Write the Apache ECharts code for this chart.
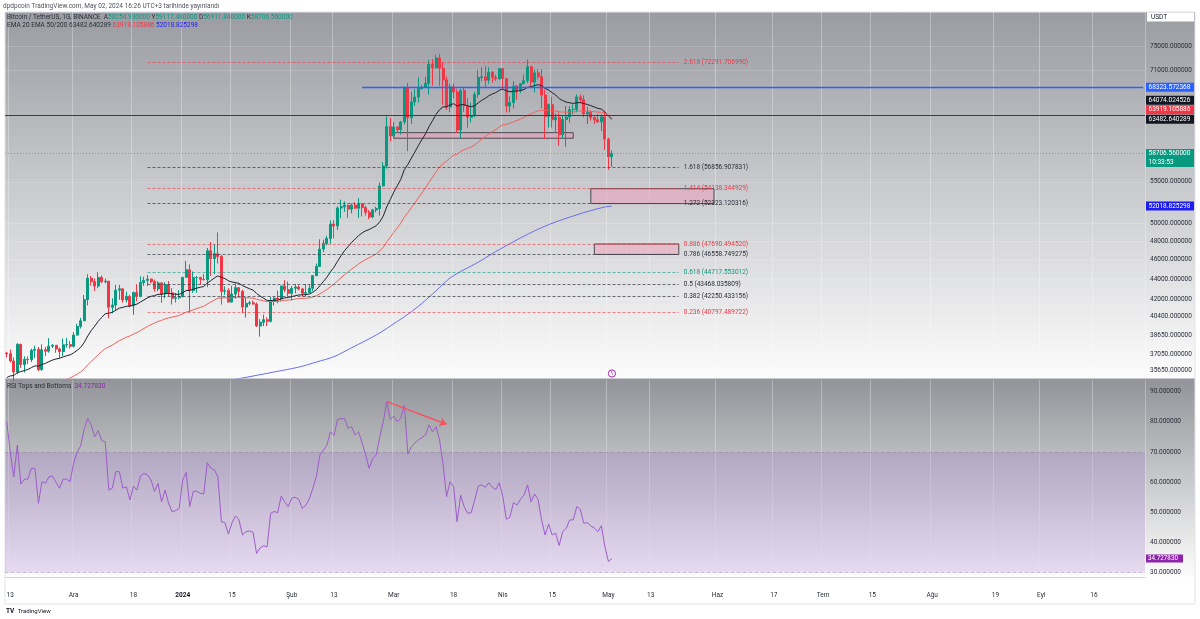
<!DOCTYPE html>
<html>
<head>
<meta charset="utf-8">
<script src="https://cdn.jsdelivr.net/npm/echarts@6/dist/echarts.min.js"></script>
<style>
  html, body { margin: 0; padding: 0; background: #fff; }
  #chart { width: 1200px; height: 619px; }
</style>
</head>
<body>
<div id="chart"></div>
<script>
// günlük mumlar 12 Kas 2023'ten başlıyor, eksen Eylül sonuna kadar
var startDay = Date.UTC(2023, 10, 12);
var dayCount = 324;
var categories = [];
for (var i = 0; i < dayCount; i++) {
  categories.push(new Date(startDay + i * 86400000).toISOString().slice(0, 10));
}

// [açılış, yüksek, düşük, kapanış]
var candles = [
  [37130,37230,36750,37065],[37065,37430,36330,36462],[36462,36750,34800,35552],[35552,37980,35360,37880],
  [37880,37930,35880,36160],[36160,36850,35500,36596],[36596,36850,36200,36568],[36568,37500,36360,37359],
  [37359,37750,36700,37448],[37448,37650,35630,35745],[35745,37880,35650,37413],[37413,37650,36860,37289],
  [37289,38420,37160,37720],[37720,37900,37560,37796],[37796,37820,37150,37479],[37479,37590,36700,37254],
  [37254,38390,36870,37831],[37831,38450,37600,37858],[37858,38150,37500,37712],
  [37712,38960,37600,38688],[38688,39700,38650,39476],[39476,40250,39280,39978],[39978,42420,39970,41980],
  [41980,44490,41420,44080],[44080,44300,43330,43746],[43746,44050,42820,43292],[43292,44700,43080,44166],
  [44166,44370,43580,43725],[43725,44040,43560,43789],[43789,43800,40220,41243],[41243,42100,40680,41450],
  [41450,43430,40980,42890],[42890,43420,41960,43022],[43022,43090,41700,41941],[41941,42730,41700,42278],
  [42278,42440,41250,41374],[41374,42750,40530,42657],[42657,43480,41800,42271],[42271,44280,42200,43652],
  [43652,44240,43330,43869],[43869,44400,43300,43997],[43997,44050,43580,43740],[43740,43950,42750,43016],
  [43016,43800,42780,43613],[43613,43650,41670,42520],[42520,43690,42100,43442],[43442,43800,42300,42627],
  [42627,43110,41500,42099],[42099,42620,41700,42156],[42156,42900,42000,42283],
  [42283,44200,42180,44180],[44180,45880,44150,44946],[44946,45500,40750,42845],[42845,44770,42620,44151],
  [44151,44300,42630,44162],[44162,44230,43420,43968],[43968,44500,43870,43930],[43930,47250,43200,46951],
  [46951,47900,44300,46110],[46110,47700,44500,46633],[46633,48970,45600,46340],[46340,46500,41500,42782],
  [42782,43260,42430,42848],[42848,43080,41720,41732],[41732,43330,41720,42511],[42511,43580,42050,43137],
  [43137,43200,42200,42777],[42777,42930,40700,41262],[41262,42200,40280,41618],[41618,41870,41420,41665],
  [41665,41880,41500,41545],[41545,41700,39430,39507],[39507,40130,38555,39845],[39845,40550,39480,40077],
  [40077,40300,39500,39934],[39934,42250,39820,41816],[41816,42200,41400,42120],[42120,42840,41620,42031],
  [42031,43320,41800,43302],[43302,43880,42700,42941],[42941,43750,42270,42580],
  [42580,43290,41880,43082],[43082,43490,42570,43200],[43200,43380,42880,43011],[43011,43120,42250,42583],
  [42583,43500,42260,42658],[42658,43400,42570,43084],[43084,44370,42790,44340],[44340,45600,44330,45293],
  [45293,48200,45240,47132],[47132,48170,46800,47751],[47751,48590,47550,48300],[48300,50330,47700,49917],
  [49917,50370,48300,49699],[49699,52000,49250,51795],[51795,52820,50600,51939],[51939,52570,51330,52123],
  [52123,52190,50630,51662],[51662,52350,51160,52122],[52122,52480,51680,51779],[51779,52980,50630,52258],
  [52258,52370,50800,51849],[51849,52070,50900,51288],[51288,51550,50500,50745],[50745,51700,50580,51568],
  [51568,51950,51280,51728],[51728,54910,50900,54476],[54476,57550,54450,57037],[57037,63900,56700,62432],
  [62432,63680,60360,61130],
  [61130,63114,60777,62388],[62388,62433,61561,61988],[61988,63230,61320,63114],[63114,68500,62790,68245],
  [68245,69000,59005,63724],[63724,67637,62800,66075],[66075,67990,65500,66823],[66823,69900,66000,68124],
  [68124,68670,67950,68313],[68313,69990,68230,68955],[68955,72800,67190,72078],[72078,72912,68620,71452],
  [71452,73650,71330,73072],[73072,73777,68555,71388],[71388,72420,65630,69500],[69500,70043,64870,65300],
  [65300,68850,64550,68394],[68394,68950,66600,67609],[67609,68100,61530,61937],[61937,68100,60775,67840],
  [67840,68240,64580,65501],[65501,66650,62260,63796],[63796,65970,63000,64037],[64037,67620,63790,67211],
  [67211,71150,66700,69880],[69880,71560,69280,69987],[69987,71730,68380,69455],[69455,71550,68900,70744],
  [70744,70900,69050,69892],[69892,70360,69350,69645],[69645,71370,69570,71333],
  [71333,71370,68100,69702],[69702,69708,64500,65446],[65446,66900,64500,65980],[65980,69290,65060,68508],
  [68508,68725,66380,67837],[67837,69000,67440,68896],[68896,70327,68840,69360],[69360,72797,69000,71620],
  [71620,71758,68210,69146],[69146,71172,67520,70631],[70631,71256,69570,70006],[70006,71227,65100,67116],
  [67116,67932,60660,63924],[63924,65840,62300,65661],[65661,66867,62300,63419],[63419,64365,61700,63793],
  [63793,64500,59768,61277],[61277,64125,60775,63470],[63470,65450,59600,63818],[63818,65420,63000,64940],
  [64940,65700,64240,64941],[64941,67230,64530,66837],[66837,67200,65850,66408],[66408,67070,63800,64276],
  [64276,65300,62800,64482],[64482,64800,63300,63755],[63755,63900,62800,63420],[63420,64300,62980,63114],
  [63114,64230,61800,63841],[63841,64740,59190,60672],
  [60672,60850,56552,58254.93],[58254.93,59117.48,56911.84,58706.56]
];

var ema20 = [
  35100,35229,35260,35509,35571,35668,35753,35906,36053,36023,36155,36263,36402,36535,36625,36685,36795,36895,36974,
  37136,37359,37609,38025,38602,39092,39492,39937,40298,40630,40689,40761,40964,41160,41234,41333,41338,41463,41540,41740,
  41943,42138,42290,42360,42479,42483,42574,42579,42533,42497,42476,
  42644,42863,42861,42984,43096,43179,43251,43603,43842,44108,44321,44174,44048,43827,43702,43648,43565,43346,43181,43037,
  42895,42572,42312,42099,41893,41886,41908,41920,42052,42137,42179,
  42265,42354,42417,42433,42454,42514,42688,42936,43335,43755,44188,44733,45206,45833,46414,46958,47406,47855,48229,48613,
  48921,49146,49298,49514,49725,50177,50830,51935,52810,
  53722,54509,55328,56558,57240,58081,58913,59790,60601,61396,62413,63274,64207,64891,65330,65327,65619,65808,65439,65668,
  65652,65475,65338,65516,65931,66317,66616,67009,67283,67508,67872,
  68046,67798,67625,67709,67721,67833,67978,68325,68403,68615,68747,68592,68148,67911,67483,67132,66575,66279,66045,65940,
  65845,65939,65984,65821,65694,65509,65310,65101,64981,64571,
  63970,63482.64
];

var ema50 = [
  32800,32944,33046,33235,33350,33477,33598,33745,33890,33963,34098,34223,34360,34495,34612,34716,34838,34956,35064,
  35206,35373,35554,35806,36130,36429,36698,36991,37255,37511,37657,37806,38005,38202,38349,38503,38616,38774,38911,39097,
  39284,39469,39636,39768,39919,40021,40155,40252,40324,40396,40470,
  40615,40785,40866,40995,41119,41231,41337,41557,41735,41927,42100,42127,42155,42138,42153,42192,42215,42178,42156,42137,
  42114,42012,41927,41854,41779,41780,41793,41802,41861,41903,41930,
  41975,42023,42062,42082,42105,42143,42229,42349,42536,42740,42958,43231,43485,43811,44130,44443,44726,45016,45281,45554,
  45801,46016,46201,46411,46619,46927,47323,47915,48433,
  48980,49490,50024,50738,51247,51828,52416,53032,53631,54232,54932,55580,56266,56859,57355,57666,58087,58460,58596,58958,
  59214,59394,59576,59875,60267,60648,60993,61375,61709,62020,62385,
  62672,62781,62906,63126,63311,63530,63759,64067,64266,64516,64731,64824,64789,64823,64768,64730,64595,64551,64522,64538,
  64554,64643,64712,64695,64687,64650,64602,64544,64516,64365,
  64125,63919.11
];

// EMA 200 resimden aralıklı okundu: [gün indeksi, değer]
var ema200Points = [
  [58,34540],[64,34900],[70,35220],[76,35550],[83,35950],[88,36370],[93,36820],[98,37580],[102,38200],
  [106,38880],[110,39710],[114,40580],[118,41610],[122,42830],[126,44110],[130,44960],[134,45730],
  [138,46650],[142,47510],[146,48350],[150,49140],[154,49850],[158,50450],[162,50990],[166,51490],
  [170,51920],[172,52018.83]
];

var rsi = [
  80,70,61.8,72.3,59.4,61,61,64.6,64.6,53,60.2,59.6,61.8,62,60,58,61,61,60.2,
  66.3,70,72,77.5,81.2,79,75.1,77.1,73.8,73.4,57.4,58,63.5,63.5,58,58.5,54.1,58.7,57.4,62,
  62.9,62.4,60.7,56.9,59.6,53.5,57.4,53,50.2,50.6,51.3,
  60.7,63.2,51.9,56.9,57.1,56.3,56.1,66.5,64.6,64.1,61.8,46.9,46.6,42.8,46.5,48.8,47.5,42.5,43.6,43.8,
  43.4,36.4,38.2,38.9,38.6,49.7,50.3,49.9,55.4,53.5,51.9,
  54.7,55,54.3,51.3,52.4,54.5,58,62,69,70.7,72.3,76.7,75.5,80.8,81,81.2,77.9,78.4,75.6,76.7,
  73,69,64.6,67.9,69,75,80,86.7,80.8,
  81.9,80.1,81.2,85.6,69.3,71.8,73,74,74.8,75.6,79,76.7,78.4,74,66,55.2,60.2,58.5,46.9,55.7,
  51.9,49.7,49.9,54.1,58.7,59.1,58.3,59.8,58.3,57.6,59.8,
  55.2,47.7,48.4,53.2,52.4,54.3,55.7,59.1,53.5,56.1,54.3,47.5,42.5,46.1,42.5,43.1,39,43.6,44.7,47.5,
  47.5,51.9,51,46.4,46.6,45.5,44.8,43.6,45.6,38.6,
  33.7,34.72783
];

var priceTicks = [35650, 37050, 38650, 40400, 42000, 44000, 46000, 48000, 50000, 55000, 71000, 75000];
var rsiTicks = [30, 40, 50, 60, 70, 80, 90];
var xTickDates = ['2023-11-13','2023-12-01','2023-12-18','2024-01-01','2024-01-15','2024-02-01','2024-02-13',
  '2024-03-01','2024-03-18','2024-04-01','2024-04-15','2024-05-01','2024-05-13','2024-06-01','2024-06-17',
  '2024-07-01','2024-07-15','2024-08-01','2024-08-19','2024-09-01','2024-09-16'];
var xTickLabels = ['13','Ara','18','2024','15','Şub','13','Mar','18','Nis','15','May','13','Haz','17',
  'Tem','15','Ağu','19','Eyl','16'];

// fibonacci uzantısı
var fibRatios = ['2.618','1.618','1.414','1.272','0.886','0.786','0.618','0.5','0.382','0.236'];
var fibPrices = [72291.706990, 56856.907831, 54138.344929, 52323.120316, 47690.494520,
  46558.749275, 44717.553012, 43468.035809, 42250.433156, 40797.489722];
var fibTone = ['r','k','r','k','r','k','g','k','k','r'];
var fibFrom = 40, fibTo = 191;

// kutular: [başlangıç, bitiş, üst, alt]
var zones = [
  [166, 201, 54138.344929, 52323.120316],
  [167, 191, 47690.494520, 46558.749275],
  [110, 161, 61570, 60790]
];
var resistance = 68323.572368, resistanceFrom = 101;
var supportLine = 64074.024526;
var emaNow = [63482.640289, 63919.105886, 52018.825298];
var arrowFrom = [108, 86.7], arrowTo = [125, 79.2];

var FONT = 'Roboto, "Noto Sans", sans-serif';
var UP = '#089981', DOWN = '#f23645';
var toneLine = { r: 'rgba(242,54,69,0.6)', k: 'rgba(60,64,74,0.75)', g: 'rgba(8,153,129,0.6)' };
var toneText = { r: '#f23645', k: '#2a2e39', g: '#089981' };

var last = candles[candles.length - 1];
var isTick = function (idx, val) { return xTickDates.indexOf(val) >= 0; };

var fibLines = fibRatios.map(function (r, k) {
  return [
    { coord: [fibFrom, fibPrices[k]],
      lineStyle: { color: toneLine[fibTone[k]], type: [3, 2], width: 1 },
      label: { show: true, position: 'end', distance: 5, formatter: r + ' (' + fibPrices[k].toFixed(6) + ')',
        color: toneText[fibTone[k]], fontSize: 6.5, fontFamily: FONT, padding: [0, 0, 9, 0] } },
    { coord: [fibTo, fibPrices[k]] }
  ];
});

var myChart = echarts.init(document.getElementById('chart'));

var option = {
  animation: false,
  backgroundColor: '#ffffff',
  grid: [
    { left: 5, right: 55, top: 12, height: 366 },
    { left: 5, right: 55, top: 380, height: 197 }
  ],
  xAxis: [
    { type: 'category', gridIndex: 0, data: categories, boundaryGap: true,
      axisLine: { show: false }, axisTick: { show: false }, axisLabel: { show: false },
      splitLine: { show: true, interval: isTick, lineStyle: { color: 'rgba(255,255,255,0.3)', width: 1 } } },
    { type: 'category', gridIndex: 1, data: categories, boundaryGap: true,
      axisLine: { show: true, lineStyle: { color: '#d1d4dc' } }, axisTick: { show: false },
      axisLabel: { show: true, interval: isTick, margin: 15, fontSize: 6.5, fontFamily: FONT, color: '#2a2e39',
        formatter: function (v) {
          var k = xTickDates.indexOf(v);
          var t = k >= 0 ? xTickLabels[k] : '';
          return t === '2024' ? '{b|2024}' : t;
        },
        rich: { b: { fontWeight: 'bold', fontSize: 6.5, fontFamily: FONT, color: '#131722' } } },
      splitLine: { show: true, interval: isTick, lineStyle: { color: 'rgba(255,255,255,0.3)', width: 1 } } }
  ],
  yAxis: [
    { type: 'log', gridIndex: 0, position: 'right', min: 35061, max: 81218,
      axisLine: { show: false },
      axisTick: { show: false, customValues: priceTicks },
      axisLabel: { customValues: priceTicks, margin: 5, fontSize: 6.5, fontFamily: FONT, color: '#2a2e39',
        formatter: function (v) { return Math.round(v).toFixed(6); } },
      splitLine: { show: true, lineStyle: { color: 'rgba(255,255,255,0.16)' } } },
    { type: 'value', gridIndex: 1, position: 'right', min: 28.57, max: 93.88,
      axisLine: { show: false },
      axisTick: { show: false, customValues: rsiTicks },
      axisLabel: { customValues: rsiTicks, margin: 5, fontSize: 6.5, fontFamily: FONT, color: '#2a2e39',
        formatter: function (v) { return v.toFixed(6); } },
      splitLine: { show: false } }
  ],
  series: [
    {
      name: 'BTCUSDT', type: 'candlestick', xAxisIndex: 0, yAxisIndex: 0, barWidth: 2.5,
      data: candles.map(function (c) { return [c[0], c[3], c[2], c[1]]; }),
      itemStyle: { color: UP, color0: DOWN, borderColor: UP, borderColor0: DOWN, borderWidth: 1 },
      markLine: {
        silent: true, symbol: ['none', 'none'], animation: false,
        label: { show: false },
        data: [
          [{ coord: [resistanceFrom, resistance], lineStyle: { color: '#2962ff', width: 1.3, type: 'solid' } },
           { coord: [dayCount - 1, resistance], lineStyle: { color: '#2962ff', width: 1.3, type: 'solid' } }],
          { yAxis: supportLine, lineStyle: { color: '#3a3d45', width: 1, type: 'solid' } },
          { yAxis: last[3], lineStyle: { color: 'rgba(8,153,129,0.55)', width: 1, type: [1, 2] } }
        ].concat(fibLines)
      },
      markArea: {
        silent: true,
        itemStyle: { color: 'rgba(242,150,180,0.45)', borderColor: '#4a4a52', borderWidth: 1 },
        data: zones.map(function (z) { return [{ coord: [z[0], z[2]] }, { coord: [z[1], z[3]] }]; })
      }
    },
    { name: 'EMA 20', type: 'line', xAxisIndex: 0, yAxisIndex: 0, data: ema20, symbol: 'none',
      lineStyle: { color: '#1e222d', width: 1 }, z: 3 },
    { name: 'EMA 50', type: 'line', xAxisIndex: 0, yAxisIndex: 0, data: ema50, symbol: 'none',
      lineStyle: { color: '#f0605d', width: 1 }, z: 3 },
    { name: 'EMA 200', type: 'line', xAxisIndex: 0, yAxisIndex: 0, data: ema200Points, symbol: 'none',
      smooth: 0.3, lineStyle: { color: '#6a6cf0', width: 1 }, z: 3 },
    {
      name: 'RSI', type: 'line', xAxisIndex: 1, yAxisIndex: 1, data: rsi, symbol: 'none',
      lineStyle: { color: '#9d5cc9', width: 1 },
      markArea: { silent: true, itemStyle: { color: 'rgba(150,90,205,0.2)' },
        data: [[{ yAxis: 30 }, { yAxis: 70 }]] },
      markLine: {
        silent: true, symbol: ['none', 'none'], label: { show: false },
        data: [
          { yAxis: 70, lineStyle: { color: 'rgba(120,123,134,0.35)', type: [3, 3], width: 1 } },
          { yAxis: 30, lineStyle: { color: 'rgba(120,123,134,0.35)', type: [3, 3], width: 1 } },
          [{ coord: arrowFrom, symbol: 'none', lineStyle: { color: '#f7525f', width: 1.5, type: 'solid' } },
           { coord: arrowTo, symbol: 'arrow', symbolSize: 7 }]
        ]
      }
    }
  ]
};

myChart.setOption(option);

// etiketler ve arka plan
function grad(c0, c1) {
  return new echarts.graphic.LinearGradient(0, 0, 0, 1, [{ offset: 0, color: c0 }, { offset: 1, color: c1 }]);
}
function py(v) { return myChart.convertToPixel({ yAxisIndex: 0 }, v); }
function ry(v) { return myChart.convertToPixel({ yAxisIndex: 1 }, v); }

var g = [];
g.push({ type: 'rect', z: -10, silent: true, shape: { x: 5, y: 12, width: 1190, height: 366 }, style: { fill: grad('#9a9ca2', '#fcfcfc') } });
g.push({ type: 'rect', z: -10, silent: true, shape: { x: 5, y: 379, width: 1190, height: 198 }, style: { fill: grad('#92949a', '#fdfdfd') } });
g.push({ type: 'rect', z: -9, silent: true, shape: { x: 5, y: 12, width: 1190, height: 592 }, style: { fill: 'none', stroke: '#e0e3eb', lineWidth: 1 } });
g.push({ type: 'line', z: -9, silent: true, shape: { x1: 5, y1: 378.5, x2: 1195, y2: 378.5 }, style: { stroke: '#c9cbd1', lineWidth: 1 } });

function tag(y, h, w, bg, lines) {
  g.push({ type: 'rect', z: 20, silent: true, shape: { x: 1146, y: y - h / 2, width: w, height: h }, style: { fill: bg } });
  lines.forEach(function (t, k) {
    g.push({ type: 'text', z: 21, silent: true, x: 1148.5, y: y + k * 9,
      style: { text: t, fill: '#ffffff', fontSize: 6.5, fontFamily: FONT, verticalAlign: 'middle' } });
  });
}

var tagList = [
  { v: emaNow[2], bg: '#1d1df0' },
  { v: emaNow[0], bg: '#131722' },
  { v: emaNow[1], bg: '#f23645' },
  { v: supportLine, bg: '#131722' },
  { v: resistance, bg: '#2962ff' }
];
var prevY = 1e9;
tagList.forEach(function (t) {
  var y = Math.min(py(t.v), prevY - 9.6);
  prevY = y;
  tag(y, 9, 48, t.bg, [t.v.toFixed(6)]);
});
// son fiyat + geri sayım
var yNow = py(last[3]);
g.push({ type: 'rect', z: 20, silent: true, shape: { x: 1146, y: yNow - 4.5, width: 48, height: 18 }, style: { fill: UP } });
g.push({ type: 'text', z: 21, silent: true, x: 1148.5, y: yNow, style: { text: last[3].toFixed(6), fill: '#fff', fontSize: 6.5, fontFamily: FONT, verticalAlign: 'middle' } });
g.push({ type: 'text', z: 21, silent: true, x: 1148.5, y: yNow + 9, style: { text: '10:33:53', fill: '#fff', fontSize: 6.5, fontFamily: FONT, verticalAlign: 'middle' } });
// RSI etiketi
var yR = ry(rsi[rsi.length - 1]);
g.push({ type: 'rect', z: 20, silent: true, shape: { x: 1146, y: yR - 4, width: 37, height: 8 }, style: { fill: '#8e24aa' } });
g.push({ type: 'text', z: 21, silent: true, x: 1148, y: yR, style: { text: rsi[rsi.length - 1].toFixed(6), fill: '#fff', fontSize: 6.3, fontFamily: FONT, verticalAlign: 'middle' } });

// USDT kutusu
g.push({ type: 'rect', z: 20, silent: true, shape: { x: 1147, y: 12.5, width: 47, height: 9 }, style: { fill: '#ffffff' } });
g.push({ type: 'text', z: 21, silent: true, x: 1151, y: 17, style: { text: 'USDT', fill: '#131722', fontSize: 6.5, fontFamily: FONT, verticalAlign: 'middle' } });

// başlıklar
g.push({ type: 'text', silent: true, x: 3, y: 6, style: { text: 'dpdpcoin TradingView.com, May 02, 2024 16:26 UTC+3 tarihinde yayınlandı', fill: '#50535e', fontSize: 6.5, fontFamily: FONT, verticalAlign: 'middle' } });
g.push({ type: 'text', silent: true, x: 7, y: 17.5, style: {
  text: '{d|Bitcoin / TetherUS, 1G, BINANCE}  {d|A}{u|' + last[0].toFixed(6) + '} {d|Y}{u|' + last[1].toFixed(6) +
        '} {d|D}{u|' + last[2].toFixed(6) + '} {d|K}{u|' + last[3].toFixed(6) + '}',
  fontSize: 6.5, fontFamily: FONT, verticalAlign: 'middle',
  rich: { d: { fill: '#2a2e39', fontSize: 6.5, fontFamily: FONT }, u: { fill: UP, fontSize: 6.5, fontFamily: FONT } } } });
g.push({ type: 'text', silent: true, x: 7, y: 25, style: {
  text: '{d|EMA 20 EMA 50/200 ' + emaNow[0].toFixed(6) + '} {r|' + emaNow[1].toFixed(6) + '} {b|' + emaNow[2].toFixed(6) + '}',
  fontSize: 6.5, fontFamily: FONT, verticalAlign: 'middle',
  rich: { d: { fill: '#2a2e39', fontSize: 6.5, fontFamily: FONT },
          r: { fill: '#f23645', fontSize: 6.5, fontFamily: FONT },
          b: { fill: '#1d1df0', fontSize: 6.5, fontFamily: FONT } } } });
g.push({ type: 'text', silent: true, x: 7, y: 386, style: {
  text: '{d|RSI Tops and Bottoms}  {p|' + rsi[rsi.length - 1].toFixed(6) + '}',
  fontSize: 6.5, fontFamily: FONT, verticalAlign: 'middle',
  rich: { d: { fill: '#2a2e39', fontSize: 6.5, fontFamily: FONT }, p: { fill: '#8e24aa', fontSize: 6.5, fontFamily: FONT } } } });

// olay ikonu
var xIcon = myChart.convertToPixel({ xAxisIndex: 0 }, candles.length - 1);
g.push({ type: 'circle', z: 20, silent: true, shape: { cx: xIcon, cy: 373.5, r: 3.6 }, style: { fill: 'rgba(255,255,255,0.6)', stroke: '#9c27b0', lineWidth: 1 } });
g.push({ type: 'text', z: 21, silent: true, x: xIcon, y: 373.8, style: { text: 'ϟ', fill: '#9c27b0', fontSize: 5.5, fontFamily: 'DejaVu Sans', align: 'center', verticalAlign: 'middle' } });

// TradingView logosu
g.push({ type: 'text', silent: true, x: 6, y: 611, style: {
  text: '{l|TV} {t|TradingView}', verticalAlign: 'middle',
  rich: { l: { fill: '#131722', fontSize: 6.5, fontWeight: 'bold', fontFamily: FONT }, t: { fill: '#131722', fontSize: 6, fontFamily: FONT } } } });

myChart.setOption({ graphic: { elements: g } });
</script>
</body>
</html>
